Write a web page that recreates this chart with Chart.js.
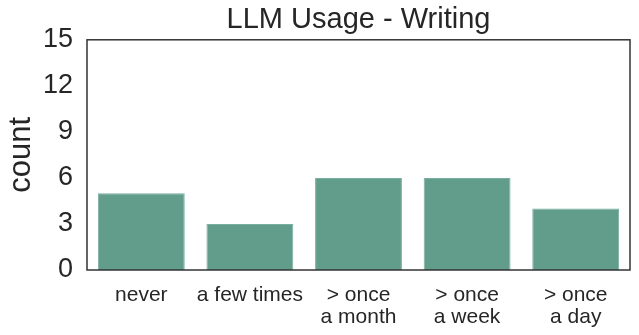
<!DOCTYPE html>
<html>
<head>
<meta charset="utf-8">
<script src="https://cdn.jsdelivr.net/npm/chart.js@4"></script>
<style>
  html, body { margin: 0; padding: 0; background: #fff; }
  #wrap { width: 639px; height: 335px; }
</style>
</head>
<body>
<div id="wrap"><canvas id="myChart"></canvas></div>
<script>
// data
const categories = [["never"], ["a few times"], ["> once", "a month"], ["> once", "a week"], ["> once", "a day"]];
const counts = [5, 3, 6, 6, 4];
const yTicks = [0, 3, 6, 9, 12, 15];

const barColor = "#629c8b";
const textColor = "#262626";

// draws the full box round the plot area (seaborn style spines)
const frame = {
  id: "frame",
  afterDraw(chart) {
    const a = chart.chartArea;
    const ctx = chart.ctx;
    ctx.save();
    ctx.strokeStyle = "#333333";
    ctx.lineWidth = 1.5;
    ctx.strokeRect(a.left, a.top, a.right - a.left, a.bottom - a.top);
    ctx.restore();
  },
};

Chart.defaults.font.family = "'Liberation Sans', Arial, sans-serif";
Chart.defaults.color = textColor;

new Chart(document.getElementById("myChart"), {
  type: "bar",
  data: {
    labels: categories,
    datasets: [
      {
        label: "count",
        data: counts,
        backgroundColor: barColor,
        borderColor: "#7aae9e",
        borderWidth: 1,
        categoryPercentage: 1,
        barPercentage: 0.8,
      },
    ],
  },
  options: {
    responsive: true,
    maintainAspectRatio: false,
    animation: false,
    layout: { padding: { top: 0, right: 9, left: 0, bottom: 0 } },
    plugins: {
      legend: { display: false },
      tooltip: { enabled: false },
      title: {
        display: true,
        fullSize: false, // centre over the plot, like matplotlib
        text: "LLM Usage - Writing",
        color: textColor,
        font: { size: 29, weight: "normal" },
        padding: { top: 3, bottom: 2 },
      },
    },
    scales: {
      x: {
        grid: { display: false, drawTicks: false },
        border: { display: false },
        ticks: {
          color: textColor,
          font: { size: 21, lineHeight: 1.05 },
          padding: 14,
          maxRotation: 0,
          autoSkip: false,
        },
        afterFit(scale) {
          scale.height = 65;
        },
      },
      y: {
        min: 0,
        max: 15,
        grid: { display: false, drawTicks: false },
        border: { display: false },
        afterBuildTicks(scale) {
          scale.ticks = yTicks.map((v) => ({ value: v }));
        },
        ticks: {
          color: textColor,
          font: { size: 27 },
          padding: 14,
        },
        title: {
          display: true,
          text: "count",
          color: textColor,
          font: { size: 31 },
          padding: { top: 3, bottom: 0 },
        },
        afterFit(scale) {
          scale.width = 87;
        },
      },
    },
  },
  plugins: [frame],
});
</script>
</body>
</html>
